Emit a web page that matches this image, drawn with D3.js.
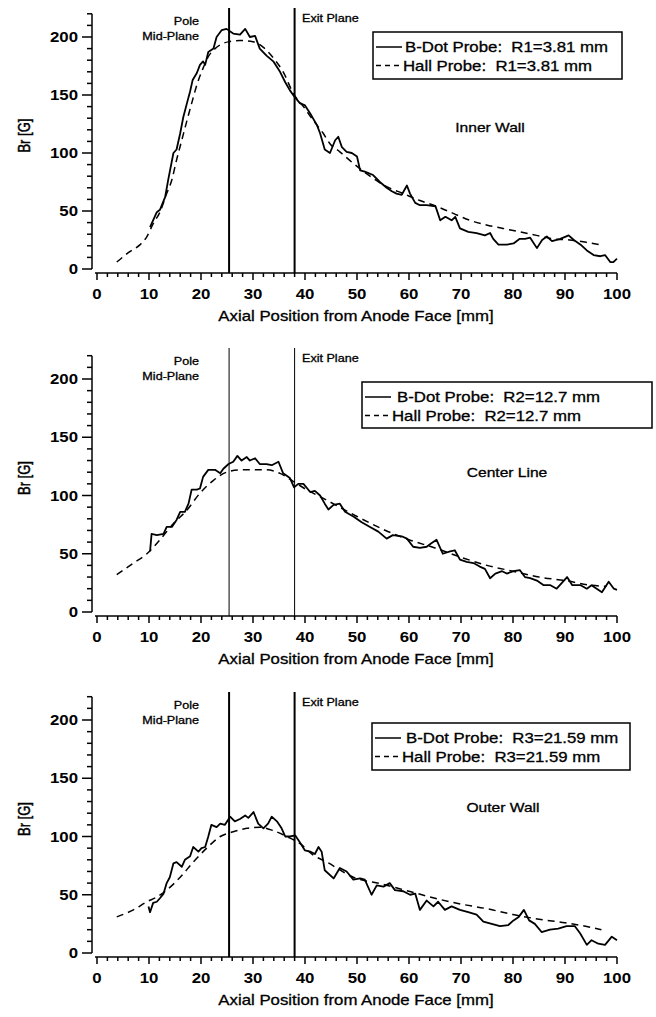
<!DOCTYPE html>
<html>
<head>
<meta charset="utf-8">
<script src="https://cdn.jsdelivr.net/npm/d3@7"></script>
<style>
  body { margin: 0; background: #fff; }
  svg { display: block; font-family: "Liberation Sans", Arial, sans-serif; }
</style>
</head>
<body>
<svg id="chart" width="656" height="1017"></svg>
<script>
var xTicks = [0, 10, 20, 30, 40, 50, 60, 70, 80, 90, 100];
var yTicks = [0, 50, 100, 150, 200];
var planes = [25.4, 38];

var innerBdot = [[10.2,36],[11.5,49],[12.1,51],[13.1,62],[13.7,77],[14.7,100],[15.3,103],[16,117],[16.6,131],[17.3,143],
  [17.9,153],[18.4,163],[19.2,169],[19.8,176],[20.4,179],[20.8,176],[21.4,187],[22.4,190],[23,200],[24,206],[24.9,207],
  [26.2,203],[27.5,202],[28.5,207],[29.4,200],[30.4,201],[31.3,190],[32.6,184],[33.9,179],[35.2,170],[36.2,161],[37.1,154],
  [37.9,149],[39,143],[40,141],[41,134],[42.3,124],[42.9,117],[43.8,103],[44.8,100],[45.8,111],[46.4,114],[47.1,105],
  [48,101],[49,100],[50,97],[50.6,85],[51.5,84],[53.1,81],[54.4,75],[55.7,70],[56.7,67],[57.6,65],[58.6,64],[59.6,72],
  [60.2,65],[61.2,57],[62.1,55],[63.4,55],[65.1,54],[66,42],[67,45],[68.2,42],[68.9,45],[69.8,35],[71.4,32],[73,31],
  [74.6,29],[75.6,31],[76.2,26],[77.2,21],[78.8,21],[80.1,22],[81.3,26],[82.3,26],[83.3,27],[84.6,18],[85.6,25],[86.5,28],
  [87.5,24],[89.1,26],[90.7,29],[91.7,25],[93,21],[94.2,16],[95.5,12],[96.8,11],[97.7,12],[98.7,6],[99.3,6],[100,9]];
var innerHall = [[3.8,6],[6.3,15],[8.3,21],[9.6,28],[10.8,39],[12.1,49],[13.4,65],[14.4,77],[15.3,94],[16.3,111],[17.3,128],
  [18.4,146],[19.3,160],[20.3,172],[21.4,183],[22.7,190],[24,194],[25.4,196],[27.5,197],[30,196],[32,191],[33.9,182],
  [35.8,170],[37.8,151],[39.7,140],[41.6,128],[43.5,117],[44.8,108],[46.7,101],[49.3,91],[52.5,80],[55.7,71],[58.9,65],
  [62.1,59],[65.3,54],[68.5,48],[71.7,42],[74.9,38],[78.1,35],[81.3,32],[84.5,29],[87.7,26],[90.9,25],[94.1,23],[96.7,21]];

var centerBdot = [[10.2,52],[10.5,67],[11.5,66],[12.8,67],[13.4,73],[14.4,73],[15.3,79],[16,86],[16.9,86],[17.6,93],
  [18.2,105],[19.2,105],[19.8,106],[20.4,116],[21.4,122],[22.7,122],[23.7,119],[24.3,123],[25.3,127],[26.2,129],[27,134],
  [27.8,130],[28.8,133],[29.4,130],[30.4,132],[31.3,127],[32.6,127],[33.6,126],[34.9,129],[35.8,119],[37.1,115],[37.9,107],
  [38.7,110],[39.7,110],[41,103],[41.9,104],[42.9,100],[43.8,93],[44.5,88],[45.5,92],[46.7,93],[47.7,86],[49.3,82],
  [50.9,77],[52.5,73],[54.1,69],[55.7,63],[56.9,66],[58.6,65],[59.6,63],[60.8,56],[62.1,55],[63.4,56],[64.3,59],[65.3,62],
  [66.5,50],[67.9,52],[68.8,53],[69.8,45],[71.1,43],[72.4,42],[73.6,39],[74.6,37],[75.6,29],[76.6,33],[77.9,35],[78.8,33],
  [80.1,35],[81.3,36],[82.3,30],[83.3,29],[84.6,27],[85.9,23],[87.2,23],[88.4,20],[89.4,25],[90.4,30],[91.4,23],[93,23],
  [94.2,20],[95.1,23],[96.1,20],[97.1,17],[98.4,26],[99.4,20],[100,19]];
var centerHall = [[3.8,32],[7,42],[9.6,50],[12.1,62],[14.7,76],[17.2,87],[19.8,102],[22.4,113],[24.9,120],[27.5,122],
  [30.1,122],[32.6,122],[35.2,119],[37.8,112],[40.3,105],[42.9,99],[45,94],[50,82],[55,71],[60,62],[65,55],[70,47],
  [75,40],[80,35],[85,30],[90,27],[95,23],[98,22]];

var outerBdot = [[9.9,40],[10.2,35],[10.8,43],[11.5,44],[12.1,47],[12.8,51],[13.4,60],[14,65],[14.7,77],[15.3,78],
  [16.3,74],[16.9,80],[17.9,83],[18.5,91],[19.5,87],[20.1,90],[20.8,91],[21.4,100],[22,110],[23,108],[23.7,111],[24.6,110],
  [25.6,117],[26.5,113],[27.5,115],[28.5,118],[29.1,116],[30.1,121],[31,111],[32,107],[32.9,111],[33.6,117],[34.6,113],
  [35.5,107],[36.2,100],[37.1,100],[38.1,101],[39,95],[40,88],[41,87],[41.9,85],[42.6,91],[43.2,87],[43.8,71],[45.5,64],
  [46.7,73],[48,70],[49.3,63],[50.6,64],[51.5,63],[52.8,50],[53.8,58],[55.1,57],[56.3,60],[57.3,54],[58.9,53],[60.2,50],
  [61.2,51],[62.1,37],[63.4,45],[64.7,40],[65.6,44],[66.9,37],[68.2,40],[69.8,37],[71.4,35],[73,33],[74.3,27],[75.9,25],
  [77.5,23],[79.1,24],[80.1,28],[81.1,31],[82.1,37],[83.1,28],[84.2,25],[85.5,18],[87.1,20],[88.7,21],[90.3,23],[91.9,23],
  [92.9,17],[94.2,7],[95.1,11],[96.4,8],[97.7,7],[99,14],[100,11]];
var outerHall = [[3.8,31],[7,37],[9.6,44],[11.5,48],[13.4,54],[16,65],[18.5,78],[21.1,90],[23.7,100],[26.2,104],
  [28.8,107],[31.3,108],[33.9,105],[36.5,100],[39,94],[41.6,84],[44.2,78],[49.3,65],[55,59],[60,53],[65,47],[70,42],
  [75,38],[80,33],[85,29],[90,26],[95,22],[97,20]];

// ---- layout of the three stacked panels ----
var panels = [
  { bdot: innerBdot, hall: innerHall, y0: 269, k: 1.16, top: 8, lw: 2,
    legend: ["B-Dot Probe:  R1=3.81 mm", "Hall Probe:  R1=3.81 mm"], box: [373, 32, 249, 47], ind: 2,
    title: "Inner Wall", tx: 490, ty: 132 },
  { bdot: centerBdot, hall: centerHall, y0: 612, k: 1.165, top: 348, lw: 1,
    legend: ["B-Dot Probe:  R2=12.7 mm", "Hall Probe:  R2=12.7 mm"], box: [362, 382, 290, 46], ind: 5,
    title: "Center Line", tx: 507, ty: 477 },
  { bdot: outerBdot, hall: outerHall, y0: 953, k: 1.165, top: 692, lw: 2,
    legend: ["B-Dot Probe:  R3=21.59 mm", "Hall Probe:  R3=21.59 mm"], box: [372, 723, 258, 47], ind: 4,
    title: "Outer Wall", tx: 503, ty: 812 }
];

var SX = 1.2; // the scanned figure is stretched horizontally
var svg = d3.select("#chart");
var x = d3.scaleLinear().domain([0, 100]).range([97, 617]);

function txt(g, px, py, s, size, anchor, bold) {
  return g.append("text")
    .attr("transform", "translate(" + px + "," + py + ") scale(" + SX + ",1)")
    .attr("text-anchor", anchor || "start")
    .attr("font-size", size)
    .attr("font-weight", bold ? "bold" : "normal")
    .attr("stroke", bold ? null : "#000").attr("stroke-width", bold ? null : 0.3)
    .style("white-space", "pre")
    .text(s);
}

panels.forEach(function (p) {
  var g = svg.append("g");
  var y = d3.scaleLinear().domain([0, 220]).range([p.y0, p.y0 - 220 * p.k]);
  var axY = p.y0 + 4;

  // axe des abscisses : majeures tous les 10, mineures tous les 2
  var xa = g.append("g").attr("transform", "translate(0," + axY + ")");
  xa.append("line").attr("x1", x(0) - 2).attr("x2", x(100)).attr("stroke", "#000").attr("stroke-width", 1.5);
  xa.selectAll(".mn").data(d3.range(0, 101, 2)).enter().append("line")
    .attr("x1", d => x(d)).attr("x2", d => x(d))
    .attr("y1", 0).attr("y2", d => d % 10 === 0 ? 7 : 4)
    .attr("stroke", "#000").attr("stroke-width", 1.5);
  xTicks.forEach(function (d) { txt(xa, x(d), 26, String(d), 14, "middle", true); });
  txt(g, 356, axY + 48, "Axial Position from Anode Face [mm]", 14, "middle", false);

  // axe des ordonnées
  var ya = g.append("g").attr("transform", "translate(92,0)");
  ya.append("line").attr("y1", y(0)).attr("y2", y(220)).attr("stroke", "#000").attr("stroke-width", 1.5);
  ya.selectAll(".mn").data(d3.range(0, 221, 10)).enter().append("line")
    .attr("y1", d => y(d)).attr("y2", d => y(d))
    .attr("x1", 0).attr("x2", d => d % 50 === 0 ? -10 : -5)
    .attr("stroke", "#000").attr("stroke-width", 1.5);
  yTicks.forEach(function (d) { txt(ya, -14, y(d) + 5, String(d), 14, "end", true); });
  g.append("text")
    .attr("transform", "translate(30," + y(115) + ") rotate(-90) scale(1," + SX + ")")
    .attr("text-anchor", "middle").attr("font-size", 13)
    .attr("stroke", "#000").attr("stroke-width", 0.4)
    .text("Br [G]");

  // plans verticaux
  g.selectAll(".pl").data(planes).enter().append("line")
    .attr("x1", d => x(d)).attr("x2", d => x(d))
    .attr("y1", p.top).attr("y2", axY)
    .attr("stroke", "#000").attr("stroke-width", p.lw);
  txt(g, 199, p.top + 17, "Pole", 10.5, "end");
  txt(g, 199, p.top + 32, "Mid-Plane", 10.5, "end");
  txt(g, 302, p.top + 14, "Exit Plane", 10.5, "start");

  // courbes
  var line = d3.line().x(d => x(d[0])).y(d => y(d[1]));
  g.append("path").datum(p.hall)
    .attr("d", line.curve(d3.curveMonotoneX))
    .attr("fill", "none").attr("stroke", "#000").attr("stroke-width", 1.5)
    .attr("stroke-dasharray", "7,5");
  g.append("path").datum(p.bdot)
    .attr("d", line.curve(d3.curveLinear))
    .attr("fill", "none").attr("stroke", "#000").attr("stroke-width", 1.8)
    .attr("stroke-linejoin", "round");

  // légende
  var b = p.box;
  g.append("rect").attr("x", b[0]).attr("y", b[1]).attr("width", b[2]).attr("height", b[3])
    .attr("fill", "#fff").attr("stroke", "#000").attr("stroke-width", 1.5);
  [0, 1].forEach(function (i) {
    var ly = b[1] + 15 + i * 18.5;
    g.append("line").attr("x1", b[0] + 3).attr("x2", b[0] + (i ? 26 : 29)).attr("y1", ly).attr("y2", ly)
      .attr("stroke", "#000").attr("stroke-width", 1.5)
      .attr("stroke-dasharray", i ? "5,4" : null);
    txt(g, b[0] + 30 + (i ? 0 : p.ind), ly + 5, p.legend[i], 14, "start");
  });

  txt(g, p.tx, p.ty, p.title, 13, "middle");
});
</script>
</body>
</html>
